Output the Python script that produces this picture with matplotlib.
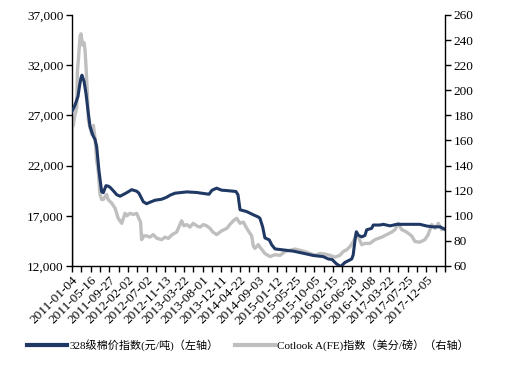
import matplotlib
matplotlib.use("Agg")
import matplotlib.pyplot as plt
from matplotlib.lines import Line2D

# ---- data (x = trading-day index along the axis) ----
tick_labels = ["2011-01-04", "2011-05-16", "2011-09-27", "2012-02-02", "2012-07-02",
               "2012-11-13", "2013-03-22", "2013-08-01", "2013-12-11", "2014-04-22",
               "2014-09-03", "2015-01-12", "2015-05-25", "2015-10-05", "2016-02-15",
               "2016-06-28", "2016-11-08", "2017-03-22", "2017-07-25", "2017-12-05"]

dark_x = [0, 14, 29, 36, 43, 48, 58, 68, 77, 87, 101, 111, 119, 130, 143, 151, 164, 175,
          183, 199, 216, 232, 264, 288, 312, 323, 344, 360, 376, 401, 433, 457, 473, 497,
          554, 602, 642, 661, 676, 698, 722, 753, 791, 801, 811, 843, 875, 899, 907, 920,
          931, 952, 964, 980, 1020, 1068, 1116, 1164, 1213, 1237, 1255, 1277, 1297, 1317,
          1350, 1357, 1366, 1372, 1382, 1399, 1414, 1422, 1446, 1454, 1486, 1502, 1535,
          1567, 1615, 1679, 1712, 1744, 1776, 1800]
dark_y = [27400, 28000, 28900, 29900, 30700, 31000, 30400, 29100, 27500, 25900, 25000,
          24600, 23900, 21500, 19400, 19300, 20000, 19950, 19850, 19500, 19100, 18950,
          19300, 19600, 19450, 19250, 18400, 18200, 18350, 18550, 18650, 18850, 19050,
          19250, 19380, 19320, 19200, 19150, 19550, 19750, 19550, 19500, 19420, 19100,
          17600, 17420, 17100, 16880, 16750, 15900, 14800, 14600, 14100, 13700, 13600,
          13480, 13270, 13050, 12930, 12700, 12650, 12200, 11950, 12350, 12700, 13100,
          14600, 15400, 15050, 14900, 15050, 15600, 15750, 16080, 16080, 16150, 16000,
          16150, 16150, 16150, 15980, 15900, 15900, 15650]

gray_x = [0, 1, 6, 14, 23, 26, 31, 39, 43, 52, 58, 63, 68, 74, 79, 87, 95, 103, 111, 119,
          127, 135, 143, 151, 167, 174, 192, 208, 223, 240, 256, 265, 280, 296, 312, 325,
          331, 336, 347, 360, 376, 392, 410, 433, 449, 465, 483, 505, 521, 529, 540, 554,
          569, 585, 602, 618, 634, 650, 666, 680, 698, 722, 747, 762, 778, 795, 811, 827,
          840, 851, 867, 875, 883, 899, 907, 931, 955, 980, 1004, 1028, 1052, 1076, 1100,
          1124, 1149, 1173, 1197, 1221, 1245, 1269, 1293, 1309, 1326, 1342, 1358, 1369,
          1375, 1385, 1398, 1414, 1438, 1462, 1495, 1519, 1543, 1559, 1575, 1591, 1615,
          1639, 1655, 1679, 1703, 1719, 1736, 1752, 1768, 1784, 1800]
gray_y = [60, 170, 172, 180, 186, 215, 225, 243, 245, 236, 238, 232, 218, 198, 176, 170,
          165, 172, 162, 144, 135, 117, 113, 113, 117, 113, 110, 106, 98, 94, 102, 100,
          102, 101, 102, 97, 95, 81, 84, 84, 83, 85, 82, 81, 83, 82, 85, 87, 93, 96, 92,
          93, 91, 94, 92, 91, 93, 92, 90, 87, 85, 88, 90, 93, 96, 98, 94, 95, 91, 88, 84,
          76, 74, 77, 75, 70, 67.5, 69, 68.5, 71.5, 72.5, 73.5, 72.5, 71.5, 70, 68.5, 70,
          69.5, 68.5, 67, 68.5, 71.5, 73, 75.5, 79.5, 84, 87, 82, 77, 78, 78, 81, 83, 85,
          87, 89, 94, 89, 87, 84, 79.5, 79, 81, 85, 93, 90, 94, 89, 90]

label_step = 90
tick_step = 45
x_end = 1800

dark_name = "328级棉价指数(元/吨)（左轴）"
gray_name = "Cotlook A(FE)指数（美分/磅）（右轴）"

DARK = "#1F3864"
GRAY = "#BFBFBF"
FONT = ["Liberation Serif", "Noto Sans CJK SC", "DejaVu Sans"]

plt.rcParams["font.family"] = FONT

fig = plt.figure(figsize=(5.06, 3.70), dpi=100)
ax = fig.add_axes([0.1423, 0.2811, 0.8794 - 0.1423, 0.9595 - 0.2811])
ax2 = ax.twinx()

ax.plot(dark_x, dark_y, color=DARK, lw=2.2, zorder=3, solid_joinstyle="round")
ax2.plot(gray_x, gray_y, color=GRAY, lw=2.4, zorder=2, solid_joinstyle="round")
ax.set_zorder(ax2.get_zorder() + 1)
ax.patch.set_visible(False)

ax.set_xlim(0, x_end)
ax.set_ylim(12000, 37000)
ax2.set_ylim(60, 260)
ax.set_yticks(range(12000, 37001, 5000))
ax.set_yticklabels([f"{v:,}" for v in range(12000, 37001, 5000)])
ax2.set_yticks(range(60, 261, 20))

ax.set_xticks(range(0, x_end + 1, tick_step), minor=True)
ax.set_xticks([i * label_step for i in range(len(tick_labels))])
ax.set_xticklabels(tick_labels, rotation=45, ha="right", va="top",
                   rotation_mode="anchor")

for a in (ax, ax2):
    a.spines["top"].set_visible(False)
    a.spines["left"].set_visible(a is ax)
    a.spines["right"].set_visible(a is ax2)
    a.spines["bottom"].set_visible(a is ax)
    for sp in a.spines.values():
        sp.set_color("black")
        sp.set_linewidth(1.0)

ax.tick_params(axis="y", direction="out", length=4, width=1, labelsize=9.5, pad=2)
ax2.tick_params(axis="y", direction="out", length=4, width=1, labelsize=9.5, pad=2)
ax.tick_params(axis="x", which="both", direction="out", length=4, width=1,
               labelsize=9.5, pad=2)

handles = [Line2D([], [], color=DARK, lw=3), Line2D([], [], color=GRAY, lw=3)]
fig.legend(handles, [dark_name, gray_name], loc="center", ncol=2,
           bbox_to_anchor=(0.49, 0.068), frameon=False, fontsize=8,
           handlelength=3.6, handletextpad=0.2, columnspacing=1.5)

fig.savefig("out.png", dpi=100)
